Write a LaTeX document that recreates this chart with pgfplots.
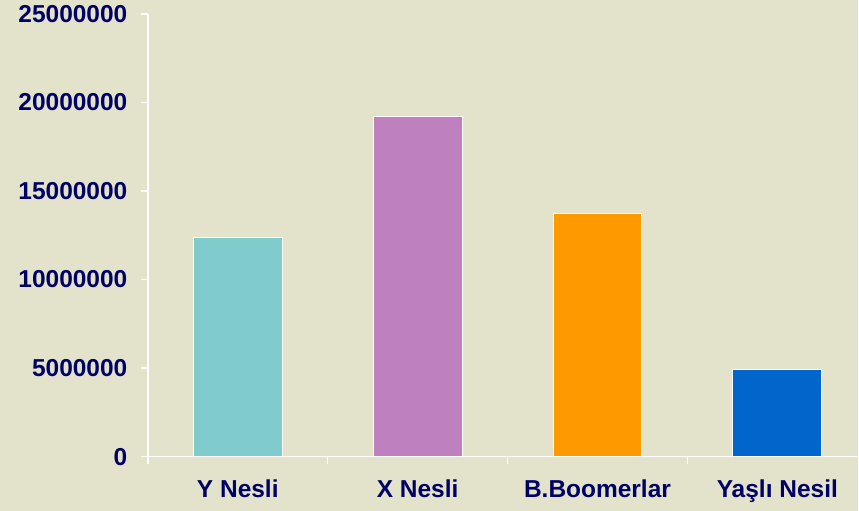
\documentclass[border=0pt]{standalone}
\usepackage{fontspec}
\setmainfont{Liberation Sans}
\usepackage{pgfplots}
\pgfplotsset{compat=1.18}
\definecolor{bgc}{RGB}{227,227,203}
\definecolor{navy}{RGB}{0,0,102}
\definecolor{cY}{RGB}{128,204,204}
\definecolor{cX}{RGB}{191,128,191}
\definecolor{cB}{RGB}{255,153,0}
\definecolor{cO}{RGB}{0,102,204}
\begin{document}
\begin{tikzpicture}[x=1pt,y=1pt]
\fill[bgc] (-148,-54) rectangle (711,457);
\begin{axis}[
  at={(0,0)}, anchor=south west,
  scale only axis, width=711pt, height=443pt,
  xmin=-0.5, xmax=3.45, ymin=0, ymax=25000000,
  axis x line*=bottom, axis y line*=left,
  axis line style={white, line width=1.5pt, -},
  tick align=outside,
  tick pos=left,
  ytick={0,5000000,10000000,15000000,20000000,25000000},
  major tick length=7pt,
  ytick style={draw=white, line width=1.5pt},
  xtick={-0.5,0.5,1.5,2.5},
  xticklabels={},
  xtick style={draw=white, line width=1.5pt},
  extra x ticks={0,1,2,3},
  extra x tick labels={Y Nesli, X Nesli, B.Boomerlar, Yaşlı Nesil},
  extra x tick style={major tick length=0pt, tick style={draw=none},
     xticklabel style={yshift=-20pt}},
  scaled y ticks=false,
  /pgf/number format/.cd, fixed, precision=0, 1000 sep={}, assume math mode=true,
  /pgfplots/.cd,
  ticklabel style={font=\fontsize{24.5}{28}\selectfont\bfseries, text=navy},
  yticklabel style={xshift=-10pt},
  ybar, bar width=89pt, bar shift=0pt,
  clip=false,
]
\addplot[fill=cY, draw=white, line width=1pt] coordinates {(0,12380000)};
\addplot[fill=cX, draw=white, line width=1pt] coordinates {(1,19190000)};
\addplot[fill=cB, draw=white, line width=1pt] coordinates {(2,13710000)};
\addplot[fill=cO, draw=white, line width=1pt] coordinates {(3,4910000)};
\end{axis}
\end{tikzpicture}
\end{document}
